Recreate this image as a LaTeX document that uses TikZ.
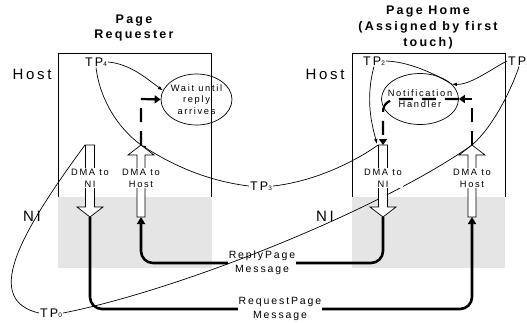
\documentclass[tikz,border=0pt]{standalone}
\usepackage{fontspec}
\setmainfont{Liberation Sans}[LetterSpace=18]
\usetikzlibrary{arrows.meta, shapes.geometric, positioning}
\newcommand{\tpsub}[1]{{\fontsize{6.5}{7}\selectfont #1}}
\tikzset{
  thinline/.style={line width=0.7pt},
  msgflow/.style={line width=2.6pt, rounded corners=12pt, -{Triangle[width=8pt,length=7pt]}},
  ctlflow/.style={line width=2.2pt, dash pattern=on 14pt off 9pt, -{Triangle[width=8pt,length=6pt]}},
  dmatext/.style={fill=white, align=center, font=\fontsize{9.3}{12}\selectfont, inner sep=1pt},
  tplabel/.style={font=\fontsize{12.5}{13}\selectfont, inner sep=1pt},
  sidelabel/.style={font=\fontsize{15}{16}\selectfont},
  headtext/.style={font=\bfseries\fontsize{12.5}{15.5}\selectfont, align=center},
  msglabel/.style={fill=white, align=center, font=\fontsize{10.5}{14}\selectfont, inner sep=1pt},
  proc/.style={ellipse, draw, thinline, inner sep=0pt},
  proctext/.style={align=center, font=\fontsize{9.3}{11.5}\selectfont},
  pics/dmadown/.style={code={
    \draw[thinline, fill=white] (-4.5,0) -- (4.5,0) -- (4.5,62) -- (13,62) -- (0,72)
      -- (-13,62) -- (-4.5,62) -- cycle;}},
  pics/dmaup/.style={code={
    \draw[thinline, fill=white] (0,0) -- (13,10) -- (4,10) -- (4,72) -- (-4,72)
      -- (-4,10) -- (-13,10) -- cycle;}},
}
\begin{document}
\begin{tikzpicture}[
    x=1pt, y=-1pt,
    >={Latex[length=5pt,width=3.5pt]},
]
\useasboundingbox (0,0) rectangle (527,322);
% NI regions and host boxes
\fill[gray!20] (58,197) rectangle (212,268);
\fill[gray!20] (352,197) rectangle (505,268);
\draw[thinline] (58,197) -- (58,53) -- (211,53) -- (211,197);
\draw[thinline] (352,197) -- (352,53) -- (505,53) -- (505,197);
\node[headtext] (reqtitle) at (134,28) {Page\\Requester};
\node[headtext, font=\bfseries\fontsize{12.5}{16}\selectfont] (hometitle) at (428,27.5) {Page Home\\(Assigned by first\\touch)};
\node[sidelabel] (hostA) at (32,74) {Host};
\node[sidelabel] (hostB) at (325,74) {Host};
\node[sidelabel] (niA) at (32,216) {NI};
\node[sidelabel] (niB) at (325,216) {NI};
% DMA end points
\coordinate (rqNItop) at (90,145);
\coordinate (rqNItip) at (90,217);
\coordinate (rqHosttip) at (141,145);
\coordinate (rqHostbot) at (141,217);
\coordinate (hmNItop) at (383,145);
\coordinate (hmNItip) at (383,217);
\coordinate (hmHosttip) at (472,145);
\coordinate (hmHostbot) at (472,217);
% page messages over the network
\draw[msgflow] (rqNItip) -- (90,309) -- (472,309) -- (hmHostbot);
\node[msglabel] (reqmsg) at (280,309) {RequestPage\\Message};
\draw[msgflow] (hmNItip) -- (383,263) -- (141,263) -- (rqHostbot);
\node[msglabel] (replymsg) at (262,263) {ReplyPage\\Message};
% handlers
\node[proc, minimum width=71pt, minimum height=51pt] (wait) at (196.5,99.5) {};
\node[proctext] (waittext) at (wait.center) {Wait until\\reply\\arrives};
\node[proc, minimum width=77pt, minimum height=51pt] (notify) at (420,99) {};
\node[proctext, font=\fontsize{9.3}{11}\selectfont] (notifytext) at (notify.center) {Notification\\Handler};
% time points
\node[tplabel] (tp4) at (96,62) {TP\tpsub{4}};
\node[tplabel] (tp2) at (374,61) {TP\tpsub{2}};
\node[tplabel] (tp1) at (519,61) {TP\tpsub{1}};
\node[tplabel] (tp3) at (261,186) {TP\tpsub{3}};
\node[tplabel] (tp0) at (51,313) {TP\tpsub{0}};
\draw[thinline, ->] (tp4.east) .. controls (130,64) and (146,78) .. (wait.165);
\draw[thinline] (tp4.south) .. controls (100,100) and (118,128) .. (rqHosttip);
\draw[thinline, ->] (tp3.west) .. controls (200,180) and (165,160) .. (rqHosttip);
\draw[thinline] (tp3.east) .. controls (310,182) and (350,165) .. ([xshift=-5pt]hmNItop);
\draw[thinline, ->] (tp2.south) .. controls (365,100) and (372,125) .. ([xshift=-6pt,yshift=1pt]hmNItop);
\draw[thinline] (tp2.east) .. controls (415,62) and (445,80) .. (notify.25);
\draw[thinline, ->] (tp1.west) .. controls (490,70) and (470,85) .. (notify.25);
\draw[thinline] (tp1.south) .. controls (513,85) and (495,125) .. (hmHosttip);
\draw[thinline] (tp0.west) .. controls (-15,300) and (15,240) .. ([xshift=-5pt]rqNItop);
\draw[thinline] (tp0.east) .. controls (180,290) and (380,210) .. (hmHosttip);
% DMA engines
\pic at (rqNItop) {dmadown};
\pic at (rqHosttip) {dmaup};
\pic at (hmNItop) {dmadown};
\pic at (hmHosttip) {dmaup};
\node[dmatext] (rqNIlbl) at (90,178) {DMA to\\NI};
\node[dmatext] (rqHostlbl) at (141,178) {DMA to\\Host};
\node[dmatext] (hmNIlbl) at (383,178) {DMA to\\NI};
\node[dmatext] (hmHostlbl) at (472,178) {DMA to\\Host};
% control flow through the handlers
\draw[ctlflow] (rqHosttip) -- (141,99) -- (wait.west);
\draw[ctlflow] (hmHosttip) -- (472,99) -- (notify.east);
\draw[ctlflow] (notify.east) -- (400,99) .. controls (390,99) and (383,103) .. (383,112) -- (hmNItop);
\end{tikzpicture}
\end{document}
